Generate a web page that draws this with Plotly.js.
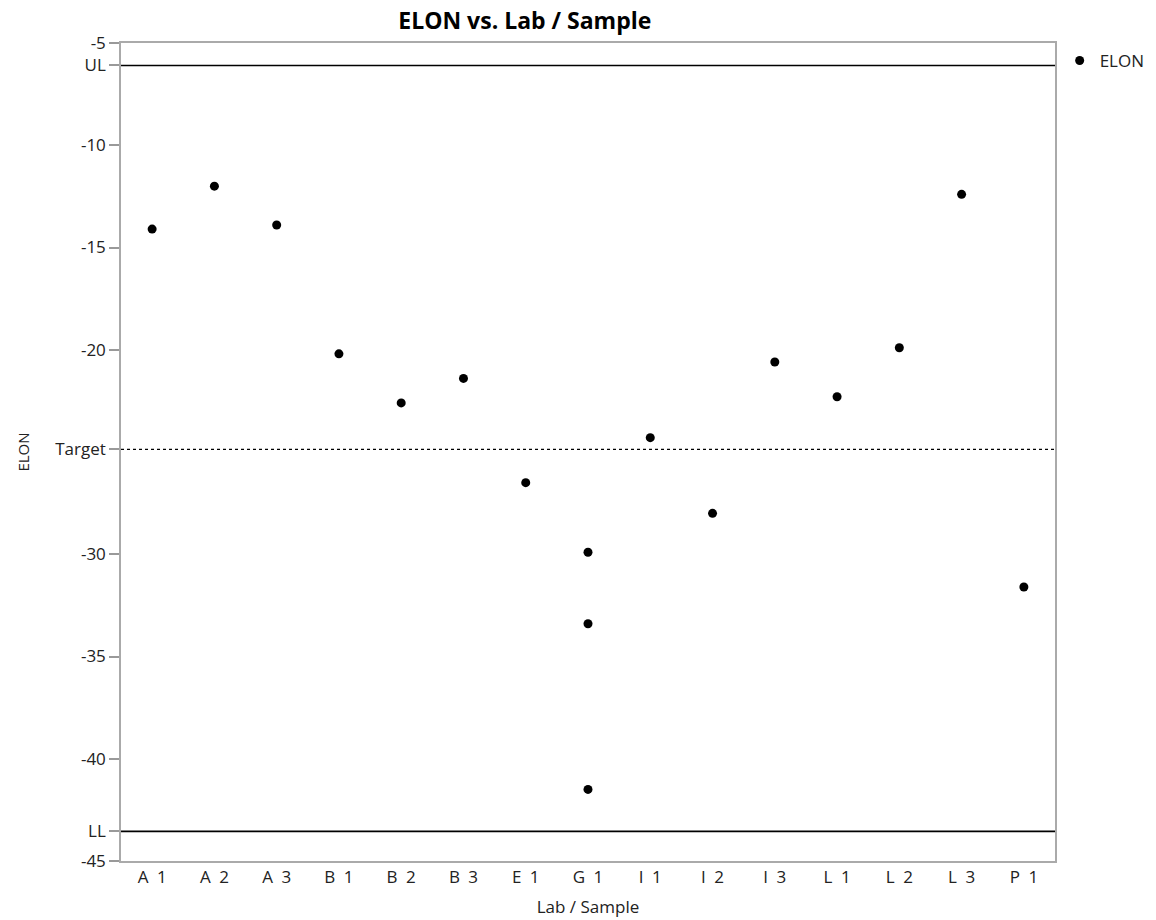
<!DOCTYPE html>
<html>
<head>
<meta charset="utf-8">
<script src="https://cdn.plot.ly/plotly-3.0.1.min.js"></script>
<style>body{margin:0;background:#fff;}#chart{width:1156px;height:920px;}</style>
</head>
<body>
<div id="chart"></div>
<script>
const categories = ["A 1","A 2","A 3","B 1","B 2","B 3","E 1","G 1","I 1","I 2","I 3","L 1","L 2","L 3","P 1"];
const pointCategories = ["A 1","A 2","A 3","B 1","B 2","B 3","E 1","G 1","G 1","G 1","I 1","I 2","I 3","L 1","L 2","L 3","P 1"];
const elonValues = [-14.1,-12.0,-13.9,-20.2,-22.6,-21.4,-26.5,-29.9,-33.4,-41.5,-24.3,-28.0,-20.6,-22.3,-19.9,-12.4,-31.6];
const UL = -6.1, TARGET = -24.87, LL = -43.55;
const yTickVals = [-5, UL, -10, -15, -20, TARGET, -30, -35, -40, LL, -45];
const yTickText = ["-5","UL","-10","-15","-20","Target","-30","-35","-40","LL","-45"];
const xTickText = categories.map(c => c.replace(" ", "\u2002"));

const font = "'Open Sans', 'Noto Sans', sans-serif";
const trace = {
  type: "scatter", mode: "markers", name: "ELON",
  x: pointCategories, y: elonValues,
  marker: {color: "#000", size: 9}
};
const refLine = (v, dash) => ({type:"line", xref:"paper", x0:0, x1:1, yref:"y", y0:v, y1:v,
  line:{color:"#000", width: dash ? 1.3 : 1.6, dash: dash || "solid"}});
const layout = {
  width: 1156, height: 920,
  margin: {l:121, r:101, t:43, b:59, autoexpand:false},
  paper_bgcolor:"#fff", plot_bgcolor:"#fff",
  font: {family: font, size: 17, color:"#222"},
  title: {text:"<b>ELON vs. Lab / Sample</b>", font:{family:font, size:23, color:"#000"}, x:0.454, xanchor:"center", y:0.977, yanchor:"middle"},
  showlegend: true,
  legend: {x:1.005, xanchor:"left", y:1.0, yanchor:"top", font:{size:17, family:font, color:"#222"}, bgcolor:"rgba(0,0,0,0)"},
  xaxis: {
    type:"category", categoryorder:"array", categoryarray: categories,
    tickmode:"array", tickvals: categories, ticktext: xTickText,
    range:[-0.5, 14.5], showgrid:false, zeroline:false,
    showline:true, linecolor:"#aaa", linewidth:1.5, mirror:true,
    ticks:"", tickfont:{size:17},
    title:{text:"Lab / Sample", font:{size:17}, standoff:14}
  },
  yaxis: {
    range:[-45, -5], showgrid:false, zeroline:false,
    showline:true, linecolor:"#aaa", linewidth:1.5, mirror:true,
    tickmode:"array", tickvals:yTickVals, ticktext:yTickText,
    ticks:"outside", ticklen:10, tickcolor:"#999", tickwidth:1.5, tickfont:{size:17},
    title:{text:"ELON", font:{size:15}, standoff:22}
  },
  shapes: [refLine(UL), refLine(LL), refLine(TARGET, "dot")]
};
Plotly.newPlot("chart", [trace], layout, {displayModeBar:false});
</script>
</body>
</html>
